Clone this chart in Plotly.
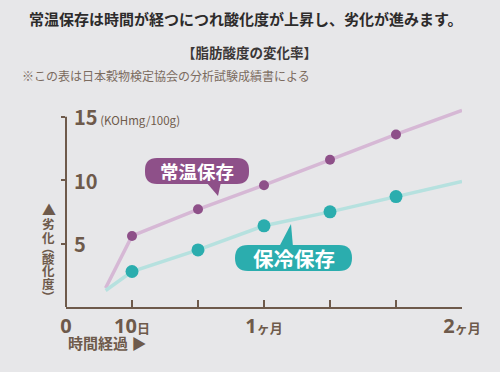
import plotly.graph_objects as go

# ---- data ----
days_line = [6, 10, 20, 30, 40, 50, 60]
room_temp = [1.5, 5.6, 7.7, 9.6, 11.6, 13.6, 15.5]   # 常温保存
cold_store = [1.3, 2.8, 4.5, 6.4, 7.5, 8.7, 9.9]     # 保冷保存
marker_days = [10, 20, 30, 40, 50]
room_marker = room_temp[1:6]
cold_marker = cold_store[1:6]

x_tickvals = [0, 10, 20, 30, 40, 50, 60]
x_ticktext = ["0", "10<span style='font-size:13px'>日</span>", "",
              "1<span style='font-size:13px'>ヶ月</span>", "", "",
              "2<span style='font-size:13px'>ヶ月</span>"]
y_tickvals = [5, 10, 15]
y_ticktext = ["<b>5</b>", "<b>10</b>",
              "<b>15</b><span style='font-size:11.5px'> (KOHmg/100g)</span>"]

BG = "#e7e7e9"
BROWN = "#6e5a4b"
PURPLE = "#8e5089"
PURPLE_LINE = "#d6b8d5"
TEAL = "#2badae"
TEAL_LINE = "#b6e1df"
FONT = "Noto Sans CJK JP"

L, R, T, B = 66, 38, 104, 65
W, H = 500, 372
PW, PH = W - L - R, H - T - B


def PX(x):
    return (x - L) / PW


def PY(y):
    return (H - B - y) / PH


fig = go.Figure()
fig.add_trace(go.Scatter(x=days_line, y=room_temp, mode="lines",
                         line=dict(color=PURPLE_LINE, width=3.5), hoverinfo="skip"))
fig.add_trace(go.Scatter(x=days_line, y=cold_store, mode="lines",
                         line=dict(color=TEAL_LINE, width=3.5), hoverinfo="skip"))
fig.add_trace(go.Scatter(x=marker_days, y=room_marker, mode="markers",
                         marker=dict(color=PURPLE, size=10), name="常温保存"))
fig.add_trace(go.Scatter(x=marker_days, y=cold_marker, mode="markers",
                         marker=dict(color=TEAL, size=13), name="保冷保存"))


def rounded(x0, y0, x1, y1, r):
    pts = [
        f"M{PX(x0 + r)},{PY(y0)}",
        f"L{PX(x1 - r)},{PY(y0)}",
        f"Q{PX(x1)},{PY(y0)} {PX(x1)},{PY(y0 + r)}",
        f"L{PX(x1)},{PY(y1 - r)}",
        f"Q{PX(x1)},{PY(y1)} {PX(x1 - r)},{PY(y1)}",
        f"L{PX(x0 + r)},{PY(y1)}",
        f"Q{PX(x0)},{PY(y1)} {PX(x0)},{PY(y1 - r)}",
        f"L{PX(x0)},{PY(y0 + r)}",
        f"Q{PX(x0)},{PY(y0)} {PX(x0 + r)},{PY(y0)}",
        "Z",
    ]
    return " ".join(pts)


def tri(p):
    return (f"M{PX(p[0][0])},{PY(p[0][1])} L{PX(p[1][0])},{PY(p[1][1])} "
            f"L{PX(p[2][0])},{PY(p[2][1])} Z")


shapes = [
    dict(type="line", xref="paper", yref="y", x0=0, x1=0, y0=0, y1=15,
         line=dict(color=BROWN, width=2)),
    dict(type="path", xref="paper", yref="paper", path=rounded(145, 158, 249, 184, 12),
         fillcolor=PURPLE, line=dict(width=0)),
    dict(type="path", xref="paper", yref="paper", path=tri([(206, 182), (221, 182), (218, 196)]),
         fillcolor=PURPLE, line=dict(width=0)),
    dict(type="path", xref="paper", yref="paper", path=rounded(235, 245, 352, 271, 13),
         fillcolor=TEAL, line=dict(width=0)),
    dict(type="path", xref="paper", yref="paper", path=tri([(279, 247), (293, 247), (291, 224)]),
         fillcolor=TEAL, line=dict(width=0)),
]


def ann(text, x, y, size, color, xanchor="center", **kw):
    return dict(text=text, x=PX(x), y=PY(y), xref="paper", yref="paper",
                xanchor=xanchor, yanchor="middle", showarrow=False,
                font=dict(size=size, color=color, family=FONT), **kw)


annotations = [
    ann("<b>常温保存は時間が経つにつれ酸化度が上昇し、劣化が進みます。</b>", 246, 18, 15, "#2d2b2b"),
    ann("<b>【脂肪酸度の変化率】</b>", 249, 52, 13.5, "#3b3737"),
    ann("※この表は日本穀物検定協会の分析試験成績書による", 20, 76, 12, "#7b6b5f", xanchor="left"),
    ann("<b>常温保存</b>", 197, 171, 18.5, "white"),
    ann("<b>保冷保存</b>", 293.5, 258, 20.5, "white"),
    ann("<b>時間経過 ▶</b>", 66, 342, 15, BROWN, xanchor="left"),
]

# y tick labels (placed at the y-axis tick values, right of the axis)
for v, t in zip(y_tickvals, y_ticktext):
    annotations.append(dict(text=t, x=0, y=v, xref="paper", yref="y", xanchor="left",
                            yanchor="middle", xshift=6, showarrow=False,
                            font=dict(size=20, color=BROWN, family=FONT)))

vchars = ["▲", "劣", "化", "（", "酸", "化", "度", "）"]
vys = [209, 223, 237, 248, 258, 270, 283, 297]
for ch, yy in zip(vchars, vys):
    rot = 90 if ch in "（）" else 0
    annotations.append(ann(f"<b>{ch}</b>", 48.5, yy, 12.5 if ch != "▲" else 14, BROWN,
                           textangle=rot))

fig.update_layout(
    width=W, height=H, margin=dict(l=L, r=R, t=T, b=B, autoexpand=False),
    paper_bgcolor=BG, plot_bgcolor=BG, showlegend=False,
    font=dict(family=FONT, color=BROWN),
    shapes=shapes, annotations=annotations,
    xaxis=dict(range=[0, 60], tickvals=x_tickvals, ticktext=x_ticktext,
               showgrid=False, zeroline=False, showline=True, linecolor=BROWN, linewidth=2,
               ticks="inside", ticklen=7, tickwidth=1.5, tickcolor=BROWN,
               tickfont=dict(size=20, color=BROWN, family="Noto Sans, " + FONT, weight="bold"),
               fixedrange=True, automargin=False),
    yaxis=dict(range=[0, 16], tickvals=y_tickvals,
               showgrid=False, zeroline=False, showline=False, showticklabels=False,
               ticks="outside", ticklen=4, tickwidth=1.5, tickcolor=BROWN,
               fixedrange=True, automargin=False),
)

fig.write_html("out.html", config={"displayModeBar": False},
               post_script="document.body.style.margin='0';document.body.style.overflow='hidden';")
